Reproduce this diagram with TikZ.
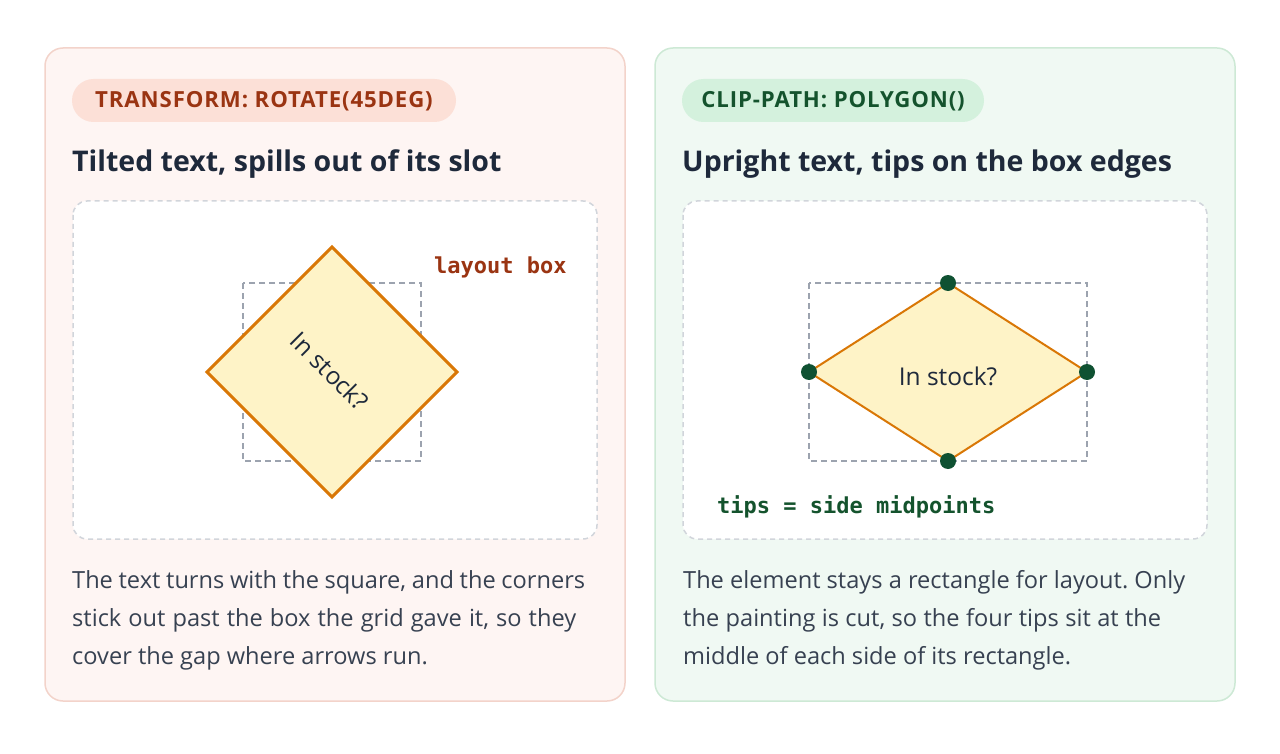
\documentclass[tikz,border=0pt]{standalone}
\usepackage{fontspec}
\setmainfont{Open Sans}
\setmonofont{DejaVu Sans Mono}
\newfontfamily\badgefont[LetterSpace=4]{Open Sans}
\definecolor{cardL}{HTML}{FEF5F3}
\definecolor{cardLb}{HTML}{F3D3CA}
\definecolor{badgeL}{HTML}{FCE0D7}
\definecolor{inkL}{HTML}{9A3412}
\definecolor{cardR}{HTML}{F0F9F3}
\definecolor{cardRb}{HTML}{CDE9D5}
\definecolor{badgeR}{HTML}{D4F1DD}
\definecolor{inkR}{HTML}{14532D}
\definecolor{titleink}{HTML}{1E293B}
\definecolor{bodyink}{HTML}{374151}
\definecolor{innerb}{HTML}{D1D5DB}
\definecolor{layoutb}{HTML}{9CA3AF}
\definecolor{dstroke}{HTML}{D97706}
\definecolor{dfill}{HTML}{FEF3C7}
\definecolor{dotc}{HTML}{0F5132}
\newcommand{\fitline}[2]{\makebox[#1][s]{#2}}
\tikzset{
  card/.style={line width=1.5pt, rounded corners=18pt},
  innerbox/.style={fill=white, draw=innerb, line width=1.5pt, dash pattern=on 5pt off 4pt, rounded corners=14pt},
  layoutbox/.style={draw=layoutb, line width=1.5pt, dash pattern=on 6pt off 4pt},
  badgetext/.style={font=\badgefont\bfseries\fontsize{22.2}{26}\selectfont, inner sep=0pt},
  titletext/.style={font=\bfseries\fontsize{28.5}{32}\selectfont, text=titleink, anchor=base west, inner sep=0pt},
  bodytext/.style={font=\frenchspacing\fontsize{23.6}{28}\selectfont, text=bodyink, anchor=base west, inner sep=0pt},
  monotext/.style={font=\ttfamily\bfseries\fontsize{22}{24}\selectfont, anchor=base west, inner sep=0pt},
  shapetext/.style={font=\fontsize{24.5}{28}\selectfont, text=titleink, inner sep=0pt},
  tipdot/.style={circle, fill=dotc, minimum size=16pt, inner sep=0pt},
}
\begin{document}
\begin{tikzpicture}[x=1pt,y=-1pt]
\useasboundingbox (0,0) rectangle (1280,754);
\fill[white] (0,0) rectangle (1280,754);

% ---------- left card ----------
\draw[card, fill=cardL, draw=cardLb] (45,48) rectangle (625,701);
\fill[badgeL, rounded corners=21.5pt] (72,79) rectangle (456,122);
\node[badgetext, text=inkL] (badgeLtxt) at (264,101) {TRANSFORM: ROTATE(45DEG)};
\node[titletext] (titleL) at (72,172) {Tilted text, spills out of its slot};
\draw[innerbox] (73,201) rectangle (597,539);
\draw[layoutbox] (243,283) rectangle (421,461);
\coordinate (dLt) at (332,247);
\coordinate (dLr) at (457,372);
\coordinate (dLb) at (332,497);
\coordinate (dLl) at (207,372);
\draw[draw=dstroke, fill=dfill, line width=3pt, line join=miter] (dLt) -- (dLr) -- (dLb) -- (dLl) -- cycle;
\node[shapetext, rotate=-45] (stockL) at (330,371) {In stock?};
\node[monotext, text=inkL] (layoutlbl) at (434,273) {layout box};
\node[bodytext] (bodyL1) at (72,588) {\fitline{513pt}{The text turns with the square, and the corners}};
\node[bodytext] (bodyL2) at (72,626) {\fitline{504pt}{stick out past the box the grid gave it, so they}};
\node[bodytext] (bodyL3) at (72,664) {cover the gap where arrows run.};

% ---------- right card ----------
\draw[card, fill=cardR, draw=cardRb] (655,48) rectangle (1235,701);
\fill[badgeR, rounded corners=21.5pt] (682,79) rectangle (984,122);
\node[badgetext, text=inkR] (badgeRtxt) at (833,101) {CLIP-PATH: POLYGON()};
\node[titletext] (titleR) at (682,172) {Upright text, tips on the box edges};
\draw[innerbox] (683,201) rectangle (1207,539);
\draw[layoutbox] (809,283) rectangle (1087,461);
\coordinate (dRt) at (948,283);
\coordinate (dRr) at (1087,372);
\coordinate (dRb) at (948,461);
\coordinate (dRl) at (809,372);
\draw[draw=dstroke, fill=dfill, line width=2pt, line join=round] (dRt) -- (dRr) -- (dRb) -- (dRl) -- cycle;
\node[shapetext] (stockR) at (948,376) {In stock?};
\node[tipdot] (tipT) at (dRt) {};
\node[tipdot] (tipR) at (dRr) {};
\node[tipdot] (tipB) at (dRb) {};
\node[tipdot] (tipL) at (dRl) {};
\node[monotext, text=inkR] (tipslbl) at (717,513) {tips = side midpoints};
\node[bodytext] (bodyR1) at (683,588) {\fitline{502pt}{The element stays a rectangle for layout. Only}};
\node[bodytext] (bodyR2) at (683,626) {\fitline{478pt}{the painting is cut, so the four tips sit at the}};
\node[bodytext] (bodyR3) at (683,664) {middle of each side of its rectangle.};
\end{tikzpicture}
\end{document}
